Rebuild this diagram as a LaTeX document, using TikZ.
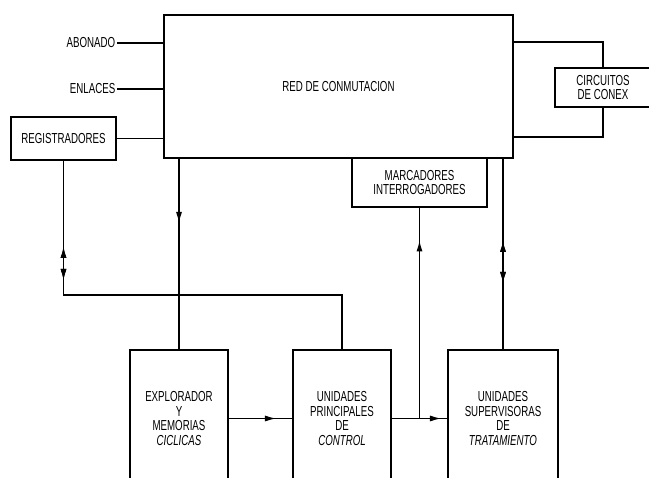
\documentclass[tikz,border=0pt]{standalone}
\usepackage{fontspec}
\setmainfont[FakeStretch=0.67]{Liberation Sans}
\usetikzlibrary{arrows.meta,decorations.markings}
\begin{document}
\begin{tikzpicture}[x=1pt,y=-1pt,
  font=\fontsize{14.5}{14.5}\selectfont,
  box/.style={draw,line width=1.9pt,rectangle,inner sep=0pt,align=center},
  conn/.style={line width=1.1pt},
  lbl/.style={inner sep=1.5pt,anchor=east},
  fwd/.style={postaction={decorate},decoration={markings,mark=at position #1 with {\arrow{Latex[length=11pt,width=6pt]}}}},
  bck/.style={postaction={decorate},decoration={markings,mark=at position #1 with {\arrowreversed{Latex[length=11pt,width=6pt]}}}},
]
\useasboundingbox (0,0) rectangle (649,478);
% boxes
\node[box,minimum width=349pt,minimum height=143pt] (red) at (338.5,86.5) {RED DE CONMUTACION};
\node[box,minimum width=105pt,minimum height=43pt] (reg) at (63.5,138.5) {REGISTRADORES};
\node[box,minimum width=96pt,minimum height=39pt] (circ) at (603,87.5) {CIRCUITOS\\DE CONEX};
\node[box,minimum width=135pt,minimum height=49pt] (marc) at (419.5,182.5) {MARCADORES\\INTERROGADORES};
\node[box,minimum width=98pt,minimum height=137pt] (expl) at (179,418.5) {EXPLORADOR\\Y\\MEMORIAS\\\textit{CICLICAS}};
\node[box,minimum width=98pt,minimum height=137pt] (prin) at (342,418.5) {UNIDADES\\PRINCIPALES\\DE\\\textit{CONTROL}};
\node[box,minimum width=110pt,minimum height=137pt] (sup) at (503,418.5) {UNIDADES\\SUPERVISORAS\\DE\\\textit{TRATAMIENTO}};
% labels
\node[lbl] (abo) at (117,43) {ABONADO};
\node[lbl] (enl) at (117,89) {ENLACES};
% helper coordinates
\coordinate (c1) at (603,42);
\coordinate (c2) at (603,137);
\coordinate (c3) at (62,295);
% connectors
\draw[conn] (abo.east) -- (abo.east -| red.west);
\draw[conn] (enl.east) -- (enl.east -| red.west);
\draw[conn] (reg.east) -- (reg.east -| red.west);
\draw[conn] (c1 -| red.east) -- (c1) -- (circ.north);
\draw[conn] (circ.south) -- (c2) -- (c2 -| red.east);
\draw[conn,fwd=64pt] (red.south -| expl.north) -- (expl.north);
\draw[conn,bck=86pt,fwd=119pt] (reg.south) -- (reg.south |- c3) -- (c3 -| prin.north) -- (prin.north);
\draw[conn,fwd=178pt] (marc.south |- prin.east) -- (marc.south);
\draw[conn,bck=82pt,fwd=124pt] (red.south -| sup.north) -- (sup.north);
\draw[conn,fwd=47pt] (expl.east) -- (prin.west);
\draw[conn,fwd=49pt] (prin.east) -- (sup.west);
\end{tikzpicture}
\end{document}
